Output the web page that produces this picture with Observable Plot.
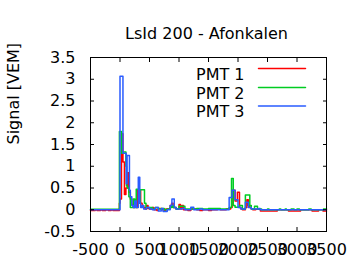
<!DOCTYPE html>
<html>
<head>
<meta charset="utf-8">
<script src="https://cdn.jsdelivr.net/npm/d3@7"></script>
<script src="https://cdn.jsdelivr.net/npm/@observablehq/plot@0.6"></script>
<style>
  body { margin: 0; background: #fff; }
  #chart svg { display: block; }
</style>
</head>
<body>
<div id="chart"></div>
<script>
const title = "LsId 200 - Afonkalen";
const yLabel = "Signal [VEM]";
const seriesNames = ["PMT 1", "PMT 2", "PMT 3"];
const seriesColors = ["#ff0000", "#00cc22", "#2a5cff"];
const xTicks = [-500, 0, 500, 1000, 1500, 2000, 2500, 3000, 3500];
const yTicks = [-0.5, 0, 0.5, 1, 1.5, 2, 2.5, 3, 3.5];

// PMT 1 (red): step breakpoints
const pmt1Times  = [-500,-420,-390,-330,-300,-240,-200,-150,-120,-10,0,25,50,75,100,125,150,175,200,225,250,275,300,350,375,400,425,450,475,500,550,575,625,650,700,750,775,850,875,900,950,1000,1025,1050,1075,1150,1200,1300,1350,1400,1500,1550,1650,1700,1800,1875,1900,1950,1990,2025,2050,2075,2125,2150,2175,2200,2225,2250,2300,2380,2665,2855,3060,3255,3365,3440,3500];
const pmt1Values = [-0.02,0,-0.02,0,-0.02,0,-0.02,0,-0.02,0.15,0.25,1.75,1.1,0.35,0.5,0.85,0.4,0.25,0.12,0.05,0.1,0.05,0.45,0.15,0.1,0.05,0.02,0.1,0.03,0.02,0.05,0,-0.02,0.03,0,-0.03,0.02,0.1,0.15,0.05,0.02,0.12,0.02,0.1,0,-0.02,0.02,0,-0.02,0,-0.02,0,0.02,0,0.02,0.05,0.45,0.2,0.4,0.05,0.02,0,0.05,0.23,0.1,0.05,0.02,0,0.01,-0.03,0,-0.03,0,-0.03,0,-0.03,-0.03];

// PMT 2 (green)
const pmt2Times  = [-500,-10,25,50,100,110,125,150,175,200,225,250,275,325,340,415,440,500,550,600,650,700,750,800,850,875,900,950,1000,1100,1200,1300,1400,1500,1600,1700,1850,1890,1920,1950,2025,2075,2125,2200,2225,2280,2330,2400,2500,2525,2700,2725,2800,2820,2900,2950,3000,3040,3200,3240,3450,3500];
const pmt2Values = [0.01,1.8,1.3,1.33,1.0,0.55,0.5,0.3,0.05,0.05,0.25,0.05,0.47,0.15,0.46,0.15,0.05,0.05,0.02,0.05,0.02,0.03,0,0.02,0.05,0.1,0.05,0.02,0.08,0.02,0.02,0.03,0.02,0.03,0.03,0.02,0.05,0.72,0.1,0.06,0.1,0.02,0.34,0.1,0.02,0.08,0.02,0,0.02,0,0.02,0,0.02,0,0.02,0,0.02,0,0.02,0,0.02,0.02];

// PMT 3 (blue)
const pmt3Times  = [-500,0,50,105,120,160,175,200,225,250,275,310,335,350,375,400,450,500,550,600,650,700,730,800,850,880,920,950,1050,1100,1200,1250,1350,1400,1850,1900,1950,2000,2050,2125,2175,2225,2350,2375,3500];
const pmt3Values = [0,3.07,1.3,0.6,1.25,0.45,0.3,0.1,0.05,0.2,0.05,0.75,0.15,0.05,0.1,0.02,0.05,0.02,0,0.05,-0.03,0.03,-0.04,0,0.1,0.25,0.05,0.02,0.03,0,0.06,0,0.02,0,0.28,0.45,0.23,0.05,0.02,0.17,0.05,0.02,0.03,0,0];

const allTimes = [pmt1Times, pmt2Times, pmt3Times];
const allValues = [pmt1Values, pmt2Values, pmt3Values];
const series = allTimes.map((ts, i) => ts.map((t, j) => ({t, v: allValues[i][j], name: seriesNames[i]})));

const lineShape = {draw(context, l) { context.moveTo(0, 0); context.lineTo(0, -l); }};
const legendDy = [11, 30, 48.5];

const marks = [
  ...series.map((d, i) => Plot.line(d, {x: "t", y: "v", curve: "step-after", stroke: seriesColors[i], strokeWidth: 1.5})),
  Plot.frame({stroke: "black"}),
  Plot.axisX({ticks: xTicks, tickSize: -4, tickPadding: 16, label: null, anchor: "bottom", tickFormat: d => String(d)}),
  Plot.axisX({ticks: xTicks, tickSize: -4, label: null, anchor: "top", fill: "none"}),
  Plot.axisY({ticks: yTicks, tickSize: -4, tickPadding: 19, label: null, anchor: "left", tickFormat: d => String(d)}),
  Plot.axisY({ticks: yTicks, tickSize: -4, label: null, anchor: "right", fill: "none"}),
  Plot.text([title], {frameAnchor: "top", dx: -2, dy: -30, fontSize: 16}),
  Plot.text([yLabel], {frameAnchor: "left", rotate: -90, dx: -77, fontSize: 16}),
  ...seriesNames.map((n, i) => Plot.text([n], {frameAnchor: "top-right", textAnchor: "end", dx: -82, dy: legendDy[i], fontSize: 16})),
  ...seriesNames.map((n, i) => Plot.vector([n], {frameAnchor: "top-right", dx: -68, dy: legendDy[i], length: 47, rotate: 90, anchor: "start", shape: lineShape, stroke: seriesColors[i], strokeWidth: 1.5}))
];

const chart = Plot.plot({
  width: 360,
  height: 270,
  marginLeft: 90,
  marginRight: 34,
  marginTop: 57,
  marginBottom: 39,
  style: {fontFamily: "DejaVu Sans", fontSize: "16px", color: "black", background: "white"},
  x: {domain: [-500, 3500]},
  y: {domain: [-0.5, 3.5]},
  marks
});
document.getElementById("chart").appendChild(chart);
</script>
</body>
</html>
